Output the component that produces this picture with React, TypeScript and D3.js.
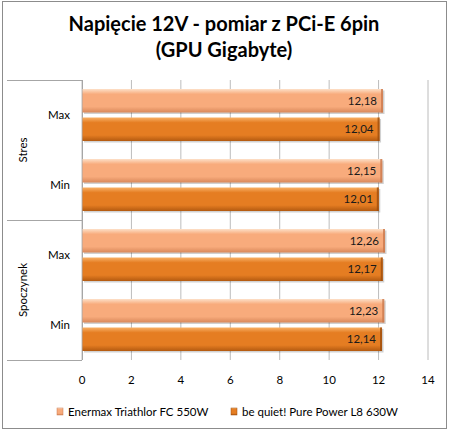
import * as d3 from "d3";

const groups = ["Stres", "Spoczynek"];
const categories = ["Max", "Min"];
const seriesNames = ["Enermax Triathlor FC 550W", "be quiet! Pure Power L8 630W"];
// rows: Stres Max, Stres Min, Spoczynek Max, Spoczynek Min
const enermax = [12.18, 12.15, 12.26, 12.23];
const bequiet = [12.04, 12.01, 12.17, 12.14];
const xTicks = [0, 2, 4, 6, 8, 10, 12, 14];

const W = 450;
const H = 432;
const FONT = "Lato, 'Open Sans', sans-serif";

const rows = groups.flatMap((g) => categories.map((c) => `${g}|${c}`));
const values = [enermax, bequiet];

const x = d3.scaleLinear().domain([0, 14]).range([82, 428]);
const y = d3.scaleBand<string>().domain(rows).range([80, 360]);
const ySeries = d3
  .scaleBand<number>()
  .domain([0, 1])
  .range([0, y.bandwidth()])
  .paddingInner(0.175)
  .paddingOuter(0.316);

const fmt = (v: number) => d3.format(".2f")(v).replace(".", ",");

const gradients = [
  { id: "gLight", top: "#fde0c8", mid: "#f8ab7c", bot: "#d9885a", edge: "#c9784c" },
  { id: "gDark", top: "#f8b066", mid: "#e57d22", bot: "#b35a10", edge: "#9c4c0c" },
];

export default function App() {
  const groupSpan = (g: string) => {
    const r = rows.filter((k) => k.startsWith(g + "|"));
    const y0 = y(r[0])!;
    const y1 = y(r[r.length - 1])! + y.bandwidth();
    return [y0, y1];
  };

  return (
    <svg
      width={W}
      height={H}
      style={{ position: "absolute", left: 0, top: 0, background: "#fff" }}
      fontFamily={FONT}
    >
      <defs>
        {gradients.map((g) => (
          <linearGradient key={g.id} id={g.id} x1="0" y1="0" x2="0" y2="1">
            <stop offset="0" stopColor={g.top} />
            <stop offset="0.22" stopColor={g.mid} />
            <stop offset="0.75" stopColor={g.mid} />
            <stop offset="1" stopColor={g.bot} />
          </linearGradient>
        ))}
      </defs>

      <rect x={2.5} y={1.5} width={444} height={427} fill="#fff" stroke="#8c8c8c" />

      <text x={224} y={31} textAnchor="middle" fontSize={20} fontWeight="bold" fill="#000">
        Napięcie 12V - pomiar z PCi-E 6pin
      </text>
      <text x={224} y={57} textAnchor="middle" fontSize={20} fontWeight="bold" fill="#000">
        (GPU Gigabyte)
      </text>

      {/* gridlines */}
      {xTicks.map((t) => (
        <line key={t} x1={x(t)} x2={x(t)} y1={80} y2={360} stroke="#bcbcbc" />
      ))}

      {/* category axis box */}
      <line x1={7} x2={82} y1={80.5} y2={80.5} stroke="#a6a6a6" />
      <line x1={82.5} x2={82.5} y1={80} y2={360} stroke="#a6a6a6" />
      {groups.map((g) => {
        const [, y1] = groupSpan(g);
        return <line key={g} x1={7} x2={82} y1={y1 + 0.5} y2={y1 + 0.5} stroke="#a6a6a6" />;
      })}

      {groups.map((g) => {
        const [y0, y1] = groupSpan(g);
        const cy = (y0 + y1) / 2;
        return (
          <text
            key={g}
            transform={`translate(27,${cy}) rotate(-90)`}
            textAnchor="middle"
            fontSize={11.5}
            fill="#000"
          >
            {g}
          </text>
        );
      })}

      {rows.map((r) => (
        <text
          key={r}
          x={70}
          y={y(r)! + y.bandwidth() / 2 + 4}
          textAnchor="end"
          fontSize={11.5}
          fill="#000"
        >
          {r.split("|")[1]}
        </text>
      ))}

      {/* bars */}
      {rows.map((r, i) =>
        values.map((vals, s) => {
          const by = y(r)! + ySeries(s)!;
          const bh = ySeries.bandwidth();
          const bx = x(0) + 0.5;
          const bw = x(vals[i]) - bx;
          const g = gradients[s];
          return (
            <g key={`${r}-${s}`}>
              <rect x={bx + 1.5} y={by + 1.5} width={bw} height={bh} fill="#000" opacity={0.18} />
              <rect x={bx} y={by} width={bw} height={bh} fill={`url(#${g.id})`} />
              <rect x={bx + bw - 2} y={by} width={2} height={bh} fill={g.edge} opacity={0.8} />
              <text
                x={bx + bw - 6}
                y={by + bh / 2 + 4}
                textAnchor="end"
                fontSize={11.5}
                fill="#1a1a1a"
              >
                {fmt(vals[i])}
              </text>
            </g>
          );
        })
      )}

      {/* x axis labels */}
      {xTicks.map((t) => (
        <text key={t} x={x(t)} y={384} textAnchor="middle" fontSize={11.5} fill="#000">
          {t}
        </text>
      ))}

      {/* legend */}
      {seriesNames.map((n, s) => {
        const lx = s === 0 ? 57 : 231;
        const g = gradients[s];
        return (
          <g key={n}>
            <rect x={lx} y={408} width={6} height={7} fill={`url(#${g.id})`} stroke={g.edge} strokeWidth={0.5} />
            <text x={lx + 11} y={416} fontSize={11.5} fill="#000">
              {n}
            </text>
          </g>
        );
      })}
    </svg>
  );
}
